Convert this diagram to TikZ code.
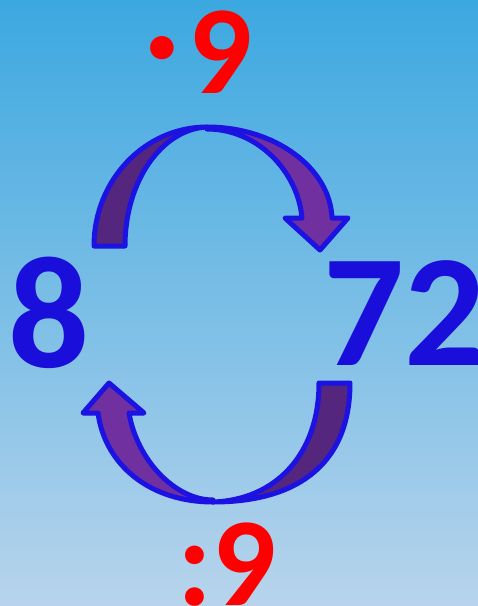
\documentclass[tikz,border=0pt]{standalone}
\usepackage{fontspec}
\newfontfamily\digitfont{Carlito Bold}
\usepackage{tikz}

\definecolor{skytop}{RGB}{60,168,224}
\definecolor{skybottom}{RGB}{184,212,236}
\definecolor{numblue}{RGB}{26,14,218}
\definecolor{rimblue}{RGB}{28,18,226}
\definecolor{opred}{RGB}{255,0,0}
\definecolor{frontband}{RGB}{112,48,160}
\definecolor{backband}{RGB}{85,38,125}

\begin{document}
\begin{tikzpicture}[
    x=1pt, y=-1pt,
    num/.style={inner sep=0pt, text=numblue, font=\fontsize{160}{160}\digitfont},
    op/.style={inner sep=0pt, text=opred, font=\fontsize{126}{126}\digitfont},
    back/.style={fill=backband, draw=rimblue, line width=5pt, line join=round},
    front/.style={fill=frontband, draw=rimblue, line width=5pt, line join=round},
]

% ---- Background ----
\shade[top color=skytop, bottom color=skybottom] (0,0) rectangle (478,606);
\useasboundingbox (0,0) rectangle (478,606);

% ---- Upper arrow: 8 -> 72 ----
\draw[back] (94,246) .. controls (94,180) and (145,127) .. (207,127)
    .. controls (162,129) and (125,181) .. (125,246) -- cycle;
\draw[front] (207,127) .. controls (275,127) and (330,168) .. (332,218)
    -- (348,218) -- (320,250) -- (285,218) -- (302,218)
    .. controls (298,172) and (258,129) .. (207,129) -- cycle;

% ---- Lower arrow: 72 -> 8 ----
\draw[back] (350,383) .. controls (350,470) and (290,502) .. (213,502)
    .. controls (275,500) and (319,455) .. (319,383) -- cycle;
\draw[front] (213,502) .. controls (150,502) and (105,465) .. (98,413)
    -- (83,413) -- (109,383) -- (144,413) -- (129,413)
    .. controls (137,460) and (175,500) .. (213,500) -- cycle;

% ---- Numbers ----
\node[num, anchor=base west] (eight) at (8,367) {8};
\node[num, anchor=base east] (seventytwo) at (486,365) {72};

% ---- Operators ----
\node[op, anchor=base] (times) at (199,93) {\raisebox{10pt}{·}\kern10pt 9};
\node[op, anchor=base] (divide) at (227,605) {:9};

\end{tikzpicture}
\end{document}
